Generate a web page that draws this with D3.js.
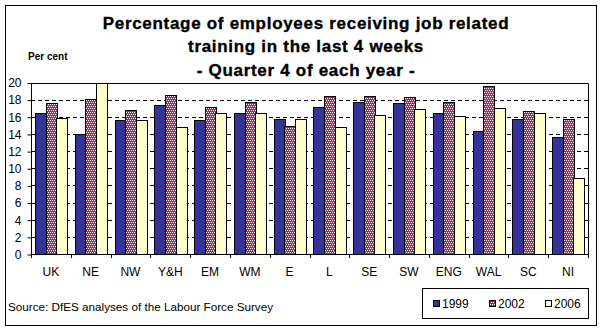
<!DOCTYPE html>
<html>
<head>
<meta charset="utf-8">
<script src="https://cdn.jsdelivr.net/npm/d3@7"></script>
<style>
  html, body { margin: 0; padding: 0; background: #fff; }
  svg { display: block; font-family: "Liberation Sans", Arial, sans-serif; }
</style>
</head>
<body>
<svg id="chart" width="604" height="332"></svg>
<script>
// Regions of the UK
const categories = ["UK", "NE", "NW", "Y&H", "EM", "WM", "E", "L", "SE", "SW", "ENG", "WAL", "SC", "NI"];
// Per cent of employees receiving job related training, Quarter 4
const years = ["1999", "2002", "2006"];
const values1999 = [16.4, 14.0, 15.6, 17.4, 15.6, 16.4, 15.7, 17.2, 17.7, 17.6, 16.5, 14.4, 15.7, 13.7];
const values2002 = [17.6, 18.1, 16.8, 18.6, 17.2, 17.7, 14.9, 18.4, 18.4, 18.3, 17.7, 19.6, 16.7, 15.7];
const values2006 = [15.9, 19.9, 15.6, 14.8, 16.4, 16.5, 15.7, 14.8, 16.2, 16.9, 16.1, 17.0, 16.5, 8.9];
const yTicks = [0, 2, 4, 6, 8, 10, 12, 14, 16, 18, 20];
const titleLines = [
  "Percentage of employees receiving job related",
  "training in the last 4 weeks",
  "- Quarter 4 of each year -"
];

const series = [values1999, values2002, values2006];
const fills = ["#333399", "url(#dots)", "#FFFFCC"];

const svg = d3.select("#chart");

// dotted pattern for the 2002 bars: magenta ground with staggered white dots
const defs = svg.append("defs");
const pat = defs.append("pattern")
  .attr("id", "dots").attr("patternUnits", "userSpaceOnUse")
  .attr("width", 4).attr("height", 4);
pat.append("rect").attr("width", 4).attr("height", 4).attr("fill", "#993366");
const dotCells = [[0, 0], [2, 0], [1, 2], [3, 2]];
dotCells.forEach(([px, py]) => {
  pat.append("rect").attr("x", px).attr("y", py).attr("width", 1).attr("height", 1).attr("fill", "#ffffff");
});

// outer frame
svg.append("rect").attr("x", 5.5).attr("y", 5.5).attr("width", 591).attr("height", 320)
  .attr("fill", "#fff").attr("stroke", "#000");

const plot = { left: 31, right: 588, top: 82.5, bottom: 254 };

const x = d3.scaleBand().domain(categories).range([plot.left, plot.right]).padding(0);
const y = d3.scaleLinear().domain([0, 20]).range([plot.bottom, plot.top]);

const groupW = x.bandwidth() * 0.8;
const xs = d3.scaleBand().domain(d3.range(series.length)).range([0, groupW]).padding(0);
const groupOff = (x.bandwidth() - groupW) / 2;

// dashed gridlines
svg.append("g").selectAll("line")
  .data(yTicks.filter(t => t > 0 && t < 20))
  .join("line")
  .attr("x1", plot.left).attr("x2", plot.right)
  .attr("y1", d => Math.round(y(d)) + 0.5).attr("y2", d => Math.round(y(d)) + 0.5)
  .attr("stroke", "#000").attr("stroke-dasharray", "4,3");

// bars
series.forEach((vals, si) => {
  svg.append("g").selectAll("rect")
    .data(vals)
    .join("rect")
    .attr("x", (d, i) => Math.round(x(categories[i]) + groupOff + xs(si)) + 0.5)
    .attr("width", Math.round(xs.bandwidth()))
    .attr("y", d => Math.round(y(d)) + 0.5)
    .attr("height", d => Math.round(y(0)) - Math.round(y(d)))
    .attr("fill", fills[si])
    .attr("stroke", "#000").attr("stroke-width", 1);
});

// plot frame: top and right border
svg.append("path")
  .attr("d", `M${plot.left},${Math.round(plot.top) + 0.5}H${plot.right + 0.5}V${plot.bottom}`)
  .attr("fill", "none").attr("stroke", "#000");

// y axis
const yAxis = d3.axisLeft(y).tickValues(yTicks).tickSize(4).tickPadding(6);
const gy = svg.append("g").attr("transform", `translate(${plot.left + 0.5},0.5)`).call(yAxis);
gy.select(".domain").attr("d", `M0,${plot.top}V${plot.bottom}`);
gy.selectAll("text").attr("font-size", 12).attr("font-family", "Liberation Sans, Arial, sans-serif").attr("fill", "#000");

// x axis line and boundary ticks
svg.append("line").attr("x1", plot.left).attr("x2", plot.right + 1)
  .attr("y1", plot.bottom + 0.5).attr("y2", plot.bottom + 0.5).attr("stroke", "#000");
const bounds = categories.map(c => x(c)).concat([plot.right]);
svg.append("g").selectAll("line").data(bounds).join("line")
  .attr("x1", d => Math.round(d) + 0.5).attr("x2", d => Math.round(d) + 0.5)
  .attr("y1", plot.bottom).attr("y2", plot.bottom + 4)
  .attr("stroke", "#000");

// category labels
svg.append("g").selectAll("text").data(categories).join("text")
  .attr("x", d => x(d) + x.bandwidth() / 2)
  .attr("y", 276)
  .attr("text-anchor", "middle")
  .attr("font-size", 12)
  .text(d => d);

// title
svg.append("g").selectAll("text").data(titleLines).join("text")
  .attr("x", 306).attr("y", (d, i) => 28.5 + i * 23.8)
  .attr("text-anchor", "middle")
  .attr("font-size", 17).attr("font-weight", "bold")
  .attr("letter-spacing", 0.7)
  .attr("stroke", "#000").attr("stroke-width", 0.35)
  .text(d => d);

svg.append("text").attr("x", 28).attr("y", 60)
  .attr("font-size", 10).attr("font-weight", "bold").text("Per cent");

// source note
svg.append("text").attr("x", 8).attr("y", 311)
  .attr("font-size", 11.7).text("Source: DfES analyses of the Labour Force Survey");

// legend
const lg = svg.append("g");
lg.append("rect").attr("x", 422.5).attr("y", 288.5).attr("width", 166).attr("height", 30)
  .attr("fill", "#fff").attr("stroke", "#000");
const legX = [433, 489, 545];
years.forEach((yr, i) => {
  lg.append("rect").attr("x", legX[i] + 0.5).attr("y", 300.5).attr("width", 6).attr("height", 6)
    .attr("fill", fills[i]).attr("stroke", "#000");
  lg.append("text").attr("x", legX[i] + 9).attr("y", 307.5)
    .attr("font-size", 12).text(yr);
});
</script>
</body>
</html>
